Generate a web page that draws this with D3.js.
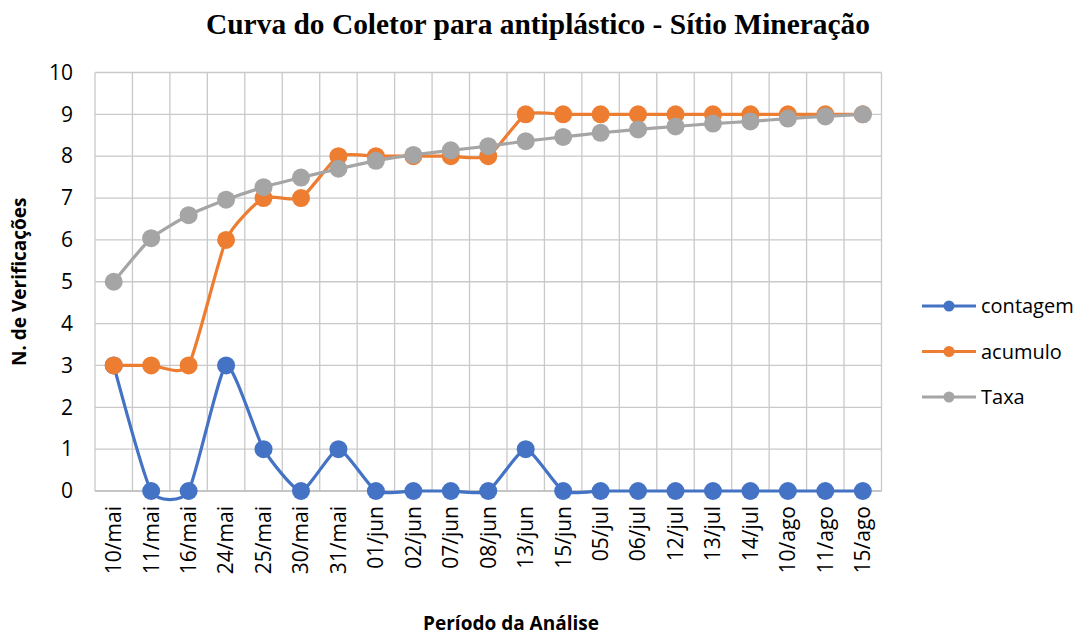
<!DOCTYPE html>
<meta charset="utf-8">
<style>
body { margin: 0; background: #fff; }
text { font-family: "Open Sans", sans-serif; fill: #000; }
.title { font-family: "Liberation Serif", serif; font-weight: bold; }
.grid line { stroke: #c9c9c9; stroke-width: 1.3; }
</style>
<svg width="1083" height="637"></svg>
<script src="https://cdn.jsdelivr.net/npm/d3@7"></script>
<script>

var categories = ["10/mai", "11/mai", "16/mai", "24/mai", "25/mai", "30/mai", "31/mai",
  "01/jun", "02/jun", "07/jun", "08/jun", "13/jun", "15/jun", "05/jul", "06/jul",
  "12/jul", "13/jul", "14/jul", "10/ago", "11/ago", "15/ago"];
var contagem = [3, 0, 0, 3, 1, 0, 1, 0, 0, 0, 0, 1, 0, 0, 0, 0, 0, 0, 0, 0, 0];
var acumulo = [3, 3, 3, 6, 7, 7, 8, 8, 8, 8, 8, 9, 9, 9, 9, 9, 9, 9, 9, 9, 9];
var taxa = [5, 6.04, 6.59, 6.96, 7.26, 7.49, 7.7, 7.89, 8.03, 8.14, 8.24, 8.36, 8.46,
  8.56, 8.64, 8.71, 8.78, 8.83, 8.9, 8.95, 9];
var yTicks = [0, 1, 2, 3, 4, 5, 6, 7, 8, 9, 10];

var series = [
  {name: "contagem", values: contagem, color: "#4472C4"},
  {name: "acumulo", values: acumulo, color: "#ED7D31"},
  {name: "Taxa", values: taxa, color: "#A5A5A5"}
];

var svg = d3.select("svg");
var plotL = 95, plotR = 881.5, plotT = 72.5, plotB = 491;

var x = d3.scaleBand().domain(categories).range([plotL, plotR]);
var y = d3.scaleLinear().domain([0, 10]).range([plotB, plotT]);

// title
svg.append("text")
    .attr("class", "title")
    .attr("x", 538).attr("y", 34)
    .attr("text-anchor", "middle")
    .attr("font-size", 29)
    .attr("textLength", 664)
    .attr("lengthAdjust", "spacingAndGlyphs")
    .text("Curva do Coletor para antiplástico - Sítio Mineração");

// grid
var grid = svg.append("g").attr("class", "grid");
grid.selectAll(".h").data(yTicks).enter().append("line")
    .attr("x1", plotL).attr("x2", plotR)
    .attr("y1", function(d) { return y(d); }).attr("y2", function(d) { return y(d); });
var bounds = categories.map(function(c) { return x(c); }).concat([plotR]);
grid.selectAll(".v").data(bounds).enter().append("line")
    .attr("x1", function(d) { return d; }).attr("x2", function(d) { return d; })
    .attr("y1", plotT).attr("y2", plotB);

// y axis
var yAxis = svg.append("g")
    .attr("transform", "translate(" + (plotL - 22) + ",0)")
    .call(d3.axisLeft(y).tickValues(yTicks).tickSize(0).tickPadding(0));
yAxis.select(".domain").remove();
yAxis.selectAll("text").attr("font-size", 21).style("font-family", "'Open Sans', sans-serif").attr("fill", "#000");

// x axis
var xAxis = svg.append("g")
    .attr("transform", "translate(0," + plotB + ")")
    .call(d3.axisBottom(x).tickSize(0).tickPadding(0));
xAxis.select(".domain").remove();
xAxis.selectAll("text")
    .attr("font-size", 21).style("font-family", "'Open Sans', sans-serif").attr("fill", "#000")
    .attr("text-anchor", "end")
    .attr("dy", "0.35em")
    .attr("transform", "translate(0,15) rotate(-90)");

svg.append("line").attr("x1", plotL).attr("x2", plotR).attr("y1", plotB).attr("y2", plotB)
    .attr("stroke", "#bfbfbf").attr("stroke-width", 1.5);

// axis titles
svg.append("text")
    .attr("transform", "translate(26," + ((plotT + plotB) / 2) + ") rotate(-90)")
    .attr("text-anchor", "middle")
    .attr("font-size", 19).attr("font-weight", "bold")
    .text("N. de Verificações");
svg.append("text")
    .attr("x", 511).attr("y", 630)
    .attr("text-anchor", "middle")
    .attr("font-size", 19).attr("font-weight", "bold")
    .text("Período da Análise");

// lines
var cx = function(i) { return x(categories[i]) + x.bandwidth() / 2; };
var line = d3.line()
    .x(function(d, i) { return cx(i); })
    .y(function(d) { return y(d); })
    .curve(d3.curveCardinal.tension(0.45));

series.forEach(function(s) {
  var g = svg.append("g");
  g.append("path")
      .attr("d", line(s.values))
      .attr("fill", "none")
      .attr("stroke", s.color)
      .attr("stroke-width", 3.2)
      .attr("stroke-linejoin", "round");
  g.selectAll("circle").data(s.values).enter().append("circle")
      .attr("cx", function(d, i) { return cx(i); })
      .attr("cy", function(d) { return y(d); })
      .attr("r", 9)
      .attr("fill", s.color);
});

// legend
var legend = svg.append("g").selectAll("g").data(series).enter().append("g")
    .attr("transform", function(d, i) { return "translate(922," + (306 + i * 45.5) + ")"; });
legend.append("line")
    .attr("x1", 0).attr("x2", 54)
    .attr("stroke", function(d) { return d.color; }).attr("stroke-width", 3.2);
legend.append("circle")
    .attr("cx", 27).attr("r", 5.5)
    .attr("fill", function(d) { return d.color; });
legend.append("text")
    .attr("x", 59).attr("dy", "0.35em")
    .attr("font-size", 20)
    .text(function(d) { return d.name; });

</script>
